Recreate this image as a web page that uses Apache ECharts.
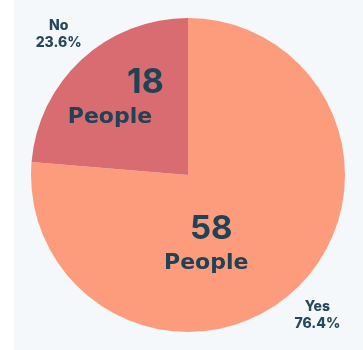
<!DOCTYPE html>
<html>
<head>
<meta charset="utf-8">
<script src="https://cdn.jsdelivr.net/npm/echarts@6/dist/echarts.min.js"></script>
<style>
  html, body { margin: 0; padding: 0; background: #ffffff; }
  #wrap { position: absolute; left: 14px; top: 0; width: 349px; height: 350px; background: #f4f8fb; }
  #chart { position: absolute; left: -14px; top: 0; width: 363px; height: 350px; }
</style>
</head>
<body>
<div id="wrap"><div id="chart"></div></div>
<script>
// Survey answers
const answers = ['Yes', 'No'];
const people = [58, 18];
const shares = ['76.4%', '23.6%'];
const sliceColors = ['#fc9c7d', '#d86c71'];

const chart = echarts.init(document.getElementById('chart'), null, { renderer: 'canvas' });

const textDark = '#1f4254';
const numFont = 'Inter, "Open Sans", sans-serif';
const wordFont = '"DejaVu Sans", Inter, sans-serif';

const pieData = answers.map((name, i) => ({
  name: name,
  value: people[i],
  itemStyle: { color: sliceColors[i] }
}));

// nudges for the big in-slice labels
const innerShift = [[-37, 9], [-17, -17]];

chart.setOption({
  animation: false,
  series: [
    {
      type: 'pie',
      center: [188, 175],
      radius: [0, 157],
      startAngle: 90,
      clockwise: true,
      silent: true,
      data: pieData,
      label: {
        show: true,
        position: 'inside',
        color: textDark,
        fontFamily: numFont,
        fontWeight: 'bold',
        formatter: function (p) {
          return p.dataIndex === 1
            ? '{n1|' + p.value + '}\n{p1|People}'
            : '{n0|' + p.value + '}\n{p0|People}';
        },
        rich: {
          n0: { fontSize: 33, fontWeight: 'bold', color: textDark, fontFamily: numFont, lineHeight: 38, padding: [0, 0, 0, 10] },
          p0: { fontSize: 22, fontWeight: 'bold', color: textDark, fontFamily: wordFont, lineHeight: 30 },
          n1: { fontSize: 34, fontWeight: 'bold', color: textDark, fontFamily: numFont, lineHeight: 38, align: 'right' },
          p1: { fontSize: 22, fontWeight: 'bold', color: textDark, fontFamily: wordFont, lineHeight: 30, width: 96, align: 'left' }
        }
      },
      labelLayout: function (params) {
        const s = innerShift[params.dataIndex];
        return { dx: s[0], dy: s[1] };
      },
      labelLine: { show: false }
    },
    {
      // transparent ring that carries the name / share labels outside the pie
      type: 'pie',
      center: [188, 175],
      radius: [176, 200],
      startAngle: 90,
      clockwise: true,
      silent: true,
      data: answers.map((name, i) => ({
        name: name,
        value: people[i],
        itemStyle: { color: 'rgba(0,0,0,0)' }
      })),
      label: {
        show: true,
        position: 'inside',
        color: '#27485a',
        fontFamily: numFont,
        fontWeight: 800,
        fontSize: 14,
        lineHeight: 17,
        formatter: function (p) {
          return p.name + '\n' + shares[p.dataIndex];
        }
      },
      labelLine: { show: false }
    }
  ]
});
</script>
</body>
</html>
